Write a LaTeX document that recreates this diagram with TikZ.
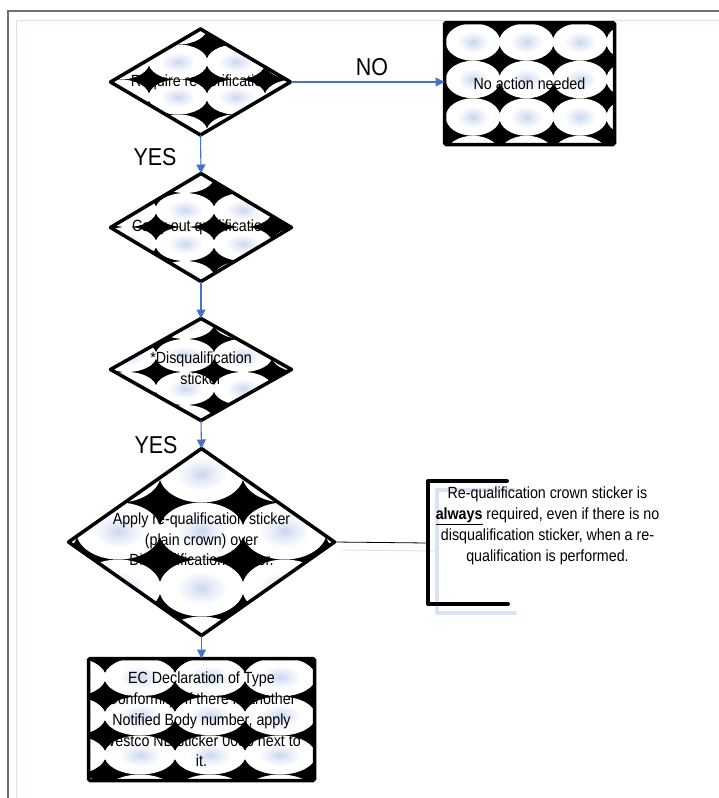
\documentclass[tikz,border=0pt]{standalone}
\usepackage{fontspec}
\setmainfont{Liberation Sans}[FakeStretch=0.88]
\usetikzlibrary{shapes.geometric,arrows.meta,calc}

\definecolor{flowblue}{RGB}{68,114,196}
\definecolor{eggblue}{RGB}{202,215,240}
\definecolor{framegray}{RGB}{112,112,112}
\definecolor{paleblue}{RGB}{218,227,244}

% white egg with a soft blue heart
\pgfdeclareradialshading{egg}{\pgfpoint{0bp}{0bp}}{color(0bp)=(eggblue); color(6bp)=(eggblue!55!white); color(15bp)=(white); color(50bp)=(white)}

% black ground tiled with eggs: #1,#2 offset of one egg from the centre, #3,#4 tile size
\newcommand\eggtiles[4]{%
  \fill[black] (path picture bounding box.south west) rectangle (path picture bounding box.north east);
  \pgfmathsetmacro\eggrx{0.51*#3}%
  \pgfmathsetmacro\eggry{0.5*#4}%
  \foreach \i in {-3,...,3}{%
    \foreach \j in {-3,...,3}{%
      \shade[shading=egg] ([shift={({#1+\i*#3},{#2+\j*#4})}]path picture bounding box.center)
        ellipse [x radius=\eggrx pt, y radius=\eggry pt];
    }%
  }%
}

\tikzset{
  lbl/.style={font=\fontsize{16.2}{20.8}\selectfont, align=center, inner sep=0pt},
  big/.style={font=\fontsize{24.4}{28}\selectfont, inner sep=0pt},
  decision/.style={diamond, draw=black, line width=3.5pt, line join=round, inner sep=0pt, outer sep=0pt},
  stepbox/.style={rectangle, draw=black, line width=3.5pt, rounded corners=1.5pt, inner sep=0pt, outer sep=0pt},
  flow/.style={draw=flowblue, line width=1.1pt, -{Triangle[length=9pt,width=9pt]}},
}

\begin{document}
\begin{tikzpicture}[x=1pt, y=-1pt]
\useasboundingbox (0,0) rectangle (719,798);

% page frame
\draw[paleblue, line width=1pt] (16,798) -- (16,20) -- (719,20);
\draw[framegray, line width=1.5pt] (8,798) -- (8,11) -- (719,11);

% decisions and steps
\node[decision, minimum width=180pt, minimum height=106pt,
      path picture={\eggtiles{-22.5}{-20}{58}{35}}] (req) at (200.5,82) {};
\node[lbl] at (req.center) {Require re-verification};

\node[stepbox, minimum width=170pt, minimum height=122pt,
      path picture={\eggtiles{-56.5}{-41.5}{53.5}{37.5}}] (none) at (529.5,83.5) {};
\node[lbl] at (none.center) {No action needed};

\node[decision, minimum width=181pt, minimum height=108pt,
      path picture={\eggtiles{-16}{-17.5}{58}{34}}] (qual) at (201,227.5) {};
\node[lbl] at (qual.center) {Carry out qualification};

\node[decision, minimum width=181pt, minimum height=102pt,
      path picture={\eggtiles{-16}{-14}{58}{33}}] (disq) at (201,369.5) {};
\node[lbl] at ([yshift=1pt]disq.center) {*Disqualification\\sticker};

\node[decision, minimum width=266pt, minimum height=187pt,
      path picture={\eggtiles{0}{-11}{83}{57}}] (apply) at (201.5,542) {};
\node[lbl] at ([yshift=1pt]apply.center) {Apply re-qualification sticker\\(plain crown) over\\Disqualification sticker.};

\node[stepbox, minimum width=226pt, minimum height=122pt,
      path picture={\eggtiles{-61.5}{-42.5}{70}{39}}] (decl) at (201.5,719.5) {};
\node[lbl] at (decl.center) {EC Declaration of Type\\Conformity. If there is another\\Notified Body number, apply\\Westco NB sticker 0036 next to\\it.};

% flow connectors
\draw[flow] (req.south) -- (qual.north);
\draw[flow] (req.east) -- (req.east -| none.west);
\draw[flow] (qual.south) -- (disq.north);
\draw[flow] (disq.south) -- (apply.north);
\draw[flow] (apply.south) -- (decl.north);

\node[big] (nolbl) at (372,67) {NO};
\node[big] (yes1) at (155,157) {YES};
\node[big] (yes2) at (156,445) {YES};

% callout with its bracket
\coordinate (brk) at (428,543);
\draw[paleblue, line width=1pt] ($(apply.east)+(7,8)$) -- ($(brk)+(9,8)$);
\draw[paleblue, line width=4pt, line cap=round, line join=round] (515,490) -- (437,490) -- (437,613) -- (515,613);
\draw[black, line width=0.8pt] (apply.east) -- (brk);
\draw[black, line width=4pt, line cap=round, line join=round] (507,481) -- (428,481) -- (428,604) -- (508,604);
\node[lbl] (note) at (547.5,526) {Re-qualification crown sticker is\\\underline{\textbf{always}} required, even if there is no\\disqualification sticker, when a re-\\qualification is performed.};
\end{tikzpicture}
\end{document}
